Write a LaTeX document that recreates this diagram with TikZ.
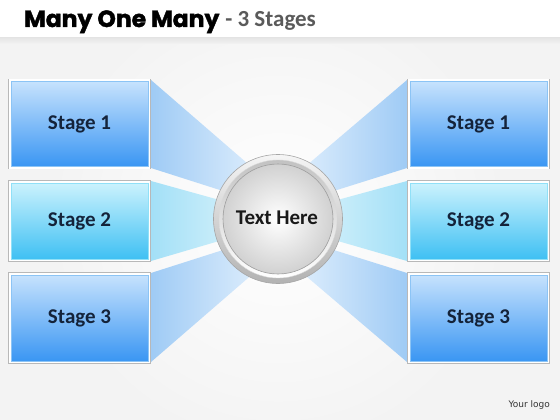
\documentclass[tikz,border=0pt]{standalone}
\usepackage{fontspec}
\setmainfont{Carlito}
\newfontfamily\titlefont[BoldFeatures={FakeBold=1.6}]{Poppins}
\newfontfamily\logofont{DejaVu Sans}
\definecolor{bg}{HTML}{F3F3F3}
\definecolor{btop}{HTML}{C6E2FD}
\definecolor{bmid}{HTML}{7DB9F4}
\definecolor{bbot}{HTML}{3A96F3}
\definecolor{bedge}{HTML}{8CC4F5}
\definecolor{ctop}{HTML}{CBF2FD}
\definecolor{cmid}{HTML}{82D8F7}
\definecolor{cbot}{HTML}{3FC0F3}
\definecolor{cedge}{HTML}{90E0F7}
\definecolor{beamb}{HTML}{9FCBF5}
\definecolor{beambl}{HTML}{E4F1FD}
\definecolor{beamc}{HTML}{A3E0F7}
\definecolor{beamcl}{HTML}{E4F6FC}
\definecolor{txt}{HTML}{14233A}
\definecolor{subt}{HTML}{5A5A5A}
\begin{document}
\begin{tikzpicture}[x=1pt,y=-1pt,
  framebox/.style={minimum width=137pt, inner sep=0pt, font=\fontsize{21}{24}\selectfont\bfseries, text=txt,
    preaction={draw=black!28,line width=5.6pt},
    preaction={draw=white,line width=4.2pt}},
  bluebox/.style={framebox, top color=btop, middle color=bmid, bottom color=bbot, draw=bedge, line width=0.8pt},
  cyanbox/.style={framebox, top color=ctop, middle color=cmid, bottom color=cbot, draw=cedge, line width=0.8pt},
  beamblue/.style={left color=beamb, right color=beambl},
  beamblueR/.style={right color=beamb, left color=beambl},
  beamcyan/.style={left color=beamc, right color=beamcl},
  beamcyanR/.style={right color=beamc, left color=beamcl}]
\useasboundingbox (0,0) rectangle (560,420);
% background
\fill[bg] (0,0) rectangle (560,420);
\shade[inner color=white, outer color=bg] (278,219) circle (230);
\fill[white] (0,0) rectangle (560,38);
\shade[top color=black!10, bottom color=bg] (0,38) rectangle (560,44);
% title
\node[anchor=base west, inner sep=0pt] (T) at (24,27)
  {{\titlefont\bfseries\fontsize{23.5}{26}\selectfont Many One Many}\hspace{6pt}{\fontsize{23}{26}\selectfont\bfseries\color{subt}- 3 Stages}};
% beams left
\shade[beamblue] (151,80) -- (270,183) -- (270,206) -- (151,168) -- cycle;
\shade[beamcyan] (151,181) -- (270,214) -- (270,226) -- (151,261) -- cycle;
\shade[beamblue] (151,273) -- (270,235) -- (270,259) -- (151,362) -- cycle;
% beams right
\shade[beamblueR] (407,80) -- (286,183) -- (286,206) -- (407,168) -- cycle;
\shade[beamcyanR] (407,181) -- (286,214) -- (286,226) -- (407,261) -- cycle;
\shade[beamblueR] (407,273) -- (286,235) -- (286,259) -- (407,362) -- cycle;
% boxes
\node[bluebox, minimum height=85pt] (L1) at (79.5,124) {Stage 1};
\node[cyanbox, minimum height=76pt] (L2) at (79.5,221) {Stage 2};
\node[bluebox, minimum height=86pt] (L3) at (79.5,318) {Stage 3};
\node[bluebox, minimum height=85pt] (R1) at (478.5,124) {Stage 1};
\node[cyanbox, minimum height=76pt] (R2) at (478.5,221) {Stage 2};
\node[bluebox, minimum height=86pt] (R3) at (478.5,318) {Stage 3};
% central circle
\shade[top color=white!96!black, bottom color=black!30, draw=black!35, line width=0.6pt] (278,219) circle (64.5);
\shade[top color=black!24, bottom color=white, draw=black!15, line width=0.4pt] (278,219) circle (59);
\shade[inner color=white, outer color=black!18, draw=black!38, line width=0.6pt] (278,219) circle (55);
\node[font=\fontsize{21}{24}\selectfont\bfseries, text=black!90] (C) at (277,218) {Text Here};
% logo
\node[anchor=east, font=\logofont\fontsize{9}{11}\selectfont, text=black!80, inner sep=0pt] (logo) at (550,405) {Your logo};
\end{tikzpicture}
\end{document}
